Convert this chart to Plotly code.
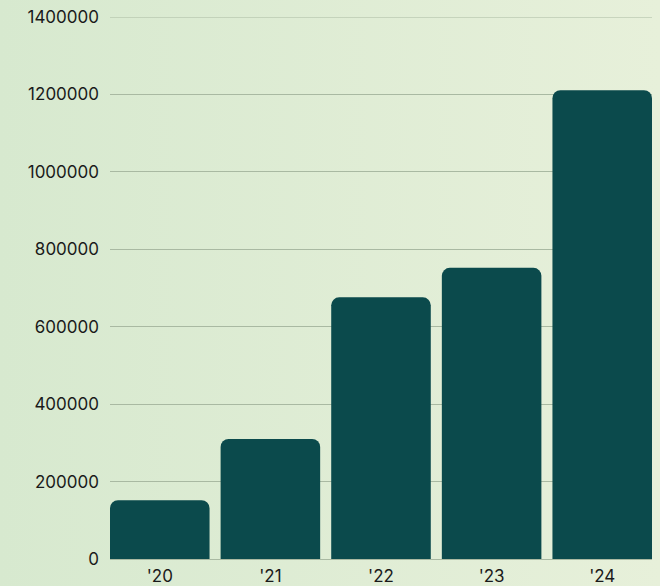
import base64
import plotly.graph_objects as go

categories = ["'20", "'21", "'22", "'23", "'24"]
values = [152000, 310000, 676000, 752000, 1211000]
tick_vals = [0, 200000, 400000, 600000, 800000, 1000000, 1200000, 1400000]

svg = (
    '<svg xmlns="http://www.w3.org/2000/svg" width="660" height="586">'
    '<defs><linearGradient id="g" x1="0" y1="0" x2="1" y2="0">'
    '<stop offset="0" stop-color="#d7e9cf"/><stop offset="1" stop-color="#e7f0da"/>'
    '</linearGradient></defs><rect width="660" height="586" fill="url(#g)"/></svg>'
)
src = "data:image/svg+xml;base64," + base64.b64encode(svg.encode()).decode()

L, R, T, B = 110, 8, 17, 27
PW, PH = 660 - L - R, 586 - T - B
GRID = "#a9b9a2"

fig = go.Figure(go.Bar(
    x=list(range(len(categories))), y=values,
    marker=dict(color="#0b4a4c", cornerradius=8, line=dict(width=0)),
    width=0.9, hoverinfo="skip",
))

fig.update_layout(
    width=660, height=586,
    margin=dict(l=L, r=R, t=T, b=B, autoexpand=False),
    paper_bgcolor="#dfecd4", plot_bgcolor="rgba(0,0,0,0)",
    font=dict(family="Inter", size=17, color="#1a1a1a"),
    showlegend=False,
    images=[dict(source=src, xref="paper", yref="paper", x=-L / PW, y=1 + T / PH,
                 sizex=660 / PW, sizey=586 / PH, xanchor="left", yanchor="top",
                 sizing="stretch", layer="below")],
    shapes=[dict(type="line", xref="paper", yref="y", x0=0, x1=1,
                 y0=tick_vals[-1], y1=tick_vals[-1], layer="below",
                 line=dict(color=GRID, width=1))],
)
fig.update_xaxes(range=[-0.45, 4.45], tickvals=list(range(len(categories))),
                 ticktext=categories, showgrid=False, zeroline=False,
                 showline=False, ticks="", ticklabelstandoff=5, automargin=False)
fig.update_yaxes(range=[0, 1400000], tickvals=tick_vals, tickformat="d",
                 showgrid=True, gridcolor=GRID, gridwidth=1,
                 zeroline=True, zerolinecolor=GRID, zerolinewidth=1,
                 ticks="", ticklabelstandoff=10, automargin=False)

fig.write_html("out.html", config={"displayModeBar": False},
               post_script="document.body.style.margin='0';document.body.style.overflow='hidden';")
